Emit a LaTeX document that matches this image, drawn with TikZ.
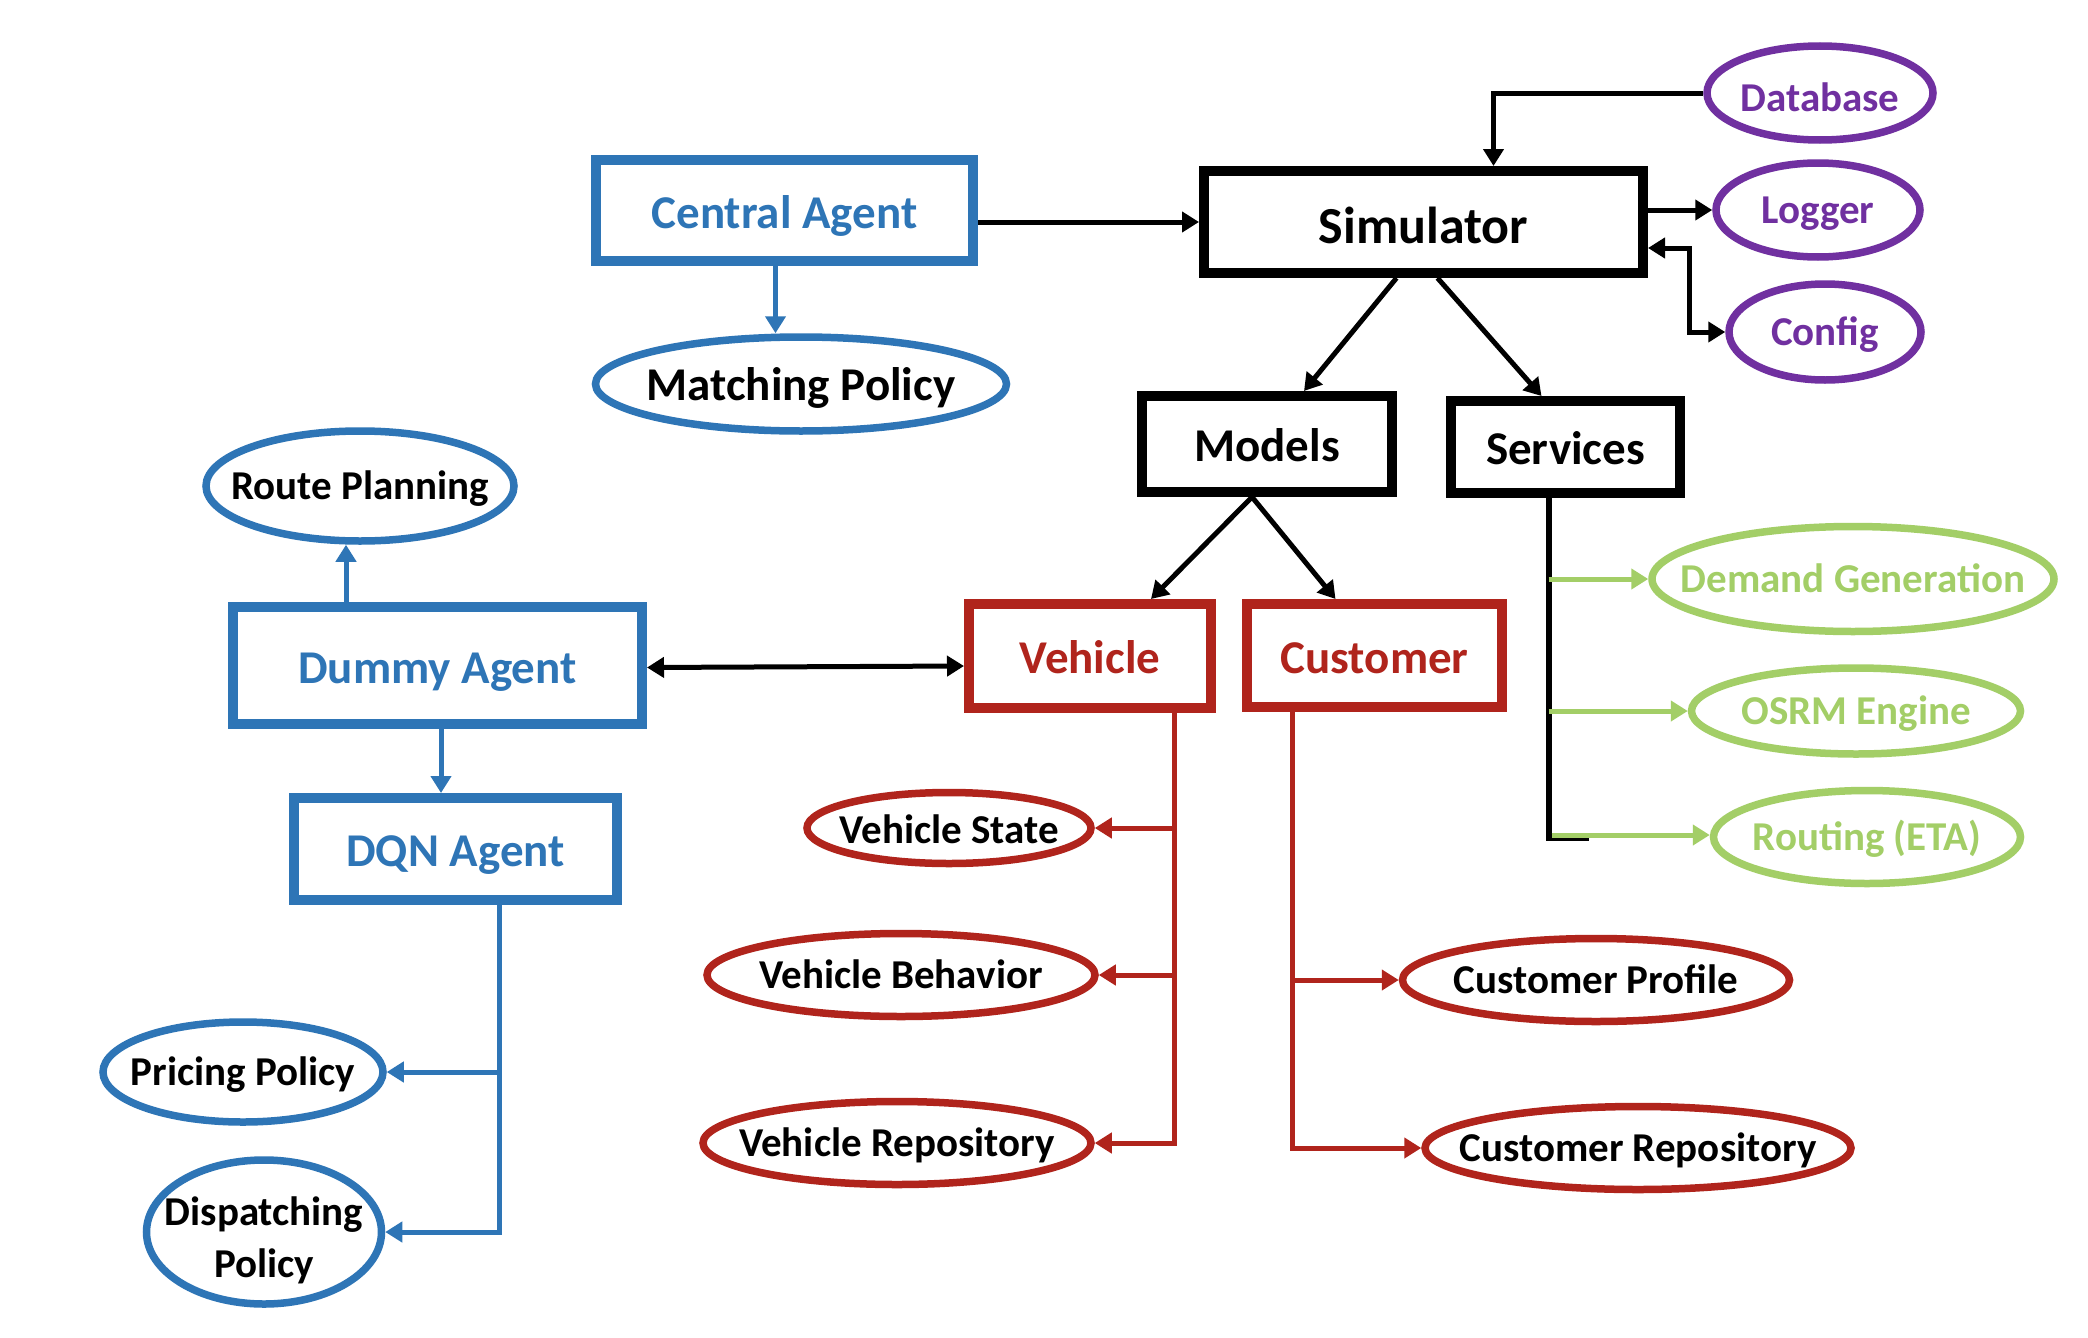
\documentclass[tikz,border=0pt]{standalone}
\usepackage{fontspec}
\setmainfont{Carlito}
\usetikzlibrary{arrows.meta,shapes.geometric,calc}
\definecolor{cblue}{HTML}{2E75B6}
\definecolor{cred}{HTML}{B0241C}
\definecolor{cpurple}{HTML}{7030A0}
\definecolor{cgreen}{HTML}{A3CE67}
\tikzset{
  tip/.style={-{Triangle[width=20pt,length=17pt]}},
  boxnode/.style={draw, rectangle, line width=10pt, inner sep=0pt, text height=42pt, text depth=7pt, font=\fontsize{47}{56}\selectfont\bfseries},
  ellnode/.style={draw, ellipse, line width=7.5pt, inner sep=0pt},
  lbl/.style={font=\fontsize{41}{50}\selectfont\bfseries, inner sep=0pt, text height=32pt, text depth=6pt},
  bigl/.style={font=\fontsize{47}{56}\selectfont\bfseries, inner sep=0pt, text height=38pt, text depth=6pt},
  twol/.style={font=\fontsize{41}{52}\selectfont\bfseries, align=center, inner sep=0pt, yshift=-8pt},
  blkc/.style={tip, line width=5pt, black},
  bluc/.style={tip, line width=5pt, cblue},
  redc/.style={tip, line width=5pt, cred},
  grnc/.style={tip, line width=5pt, cgreen},
  dblc/.style={line width=5pt, {Triangle[width=20pt,length=17pt]}-{Triangle[width=20pt,length=17pt]}},
}
\begin{document}
\begin{tikzpicture}[x=1pt,y=-1pt]
\useasboundingbox[fill=white] (0,0) rectangle (2088,1338);

% boxes
\node[boxnode, draw=cblue, text=cblue, minimum width=377pt, minimum height=101pt] (central) at (784.5,210.5) {Central Agent};
\node[boxnode, minimum width=439pt, minimum height=102pt, font=\fontsize{52}{60}\selectfont\bfseries, text height=48pt, text depth=6pt] (sim) at (1423.5,222) {Simulator};
\node[boxnode, minimum width=250pt, minimum height=96pt] (mod) at (1267,444) {Models};
\node[boxnode, minimum width=229pt, minimum height=92pt] (srv) at (1565.5,447) {Services};
\node[boxnode, draw=cred, text=cred, minimum width=242pt, minimum height=104pt] (veh) at (1090,656) {Vehicle};
\node[boxnode, draw=cred, text=cred, minimum width=255pt, minimum height=103pt] (cus) at (1374.5,655.5) {Customer};
\node[boxnode, draw=cblue, text=cblue, minimum width=409pt, minimum height=117pt] (dum) at (437.5,665.5) {Dummy Agent};
\node[boxnode, draw=cblue, text=cblue, minimum width=323pt, minimum height=102pt] (dqn) at (455.5,849) {DQN Agent};

% ellipses
\node[ellnode, draw=cblue, minimum width=411pt, minimum height=94pt, label={[bigl]center:Matching Policy}] (mp) at (801,384) {};
\node[ellnode, draw=cblue, minimum width=308pt, minimum height=110pt, label={[lbl]center:Route Planning}] (rp) at (360,486) {};
\node[ellnode, draw=cblue, minimum width=280pt, minimum height=100pt, label={[lbl]center:Pricing Policy}] (pp) at (243,1072) {};
\node[ellnode, draw=cblue, minimum width=235pt, minimum height=144pt, label={[twol]center:Dispatching\\Policy}] (dp) at (264,1232) {};

\node[ellnode, draw=cpurple, minimum width=226pt, minimum height=94pt, label={[lbl, text=cpurple, yshift=-5pt]center:Database}] (db) at (1820,93) {};
\node[ellnode, draw=cpurple, minimum width=204pt, minimum height=94pt, label={[lbl, text=cpurple]center:Logger}] (lg) at (1818,210) {};
\node[ellnode, draw=cpurple, minimum width=192pt, minimum height=96pt, label={[lbl, text=cpurple]center:Config}] (cfg) at (1825,332) {};

\node[ellnode, draw=cgreen, minimum width=402pt, minimum height=105pt, label={[lbl, text=cgreen]center:Demand Generation}] (dg) at (1853,579) {};
\node[ellnode, draw=cgreen, minimum width=329pt, minimum height=86pt, label={[lbl, text=cgreen]center:OSRM Engine}] (os) at (1856,711) {};
\node[ellnode, draw=cgreen, minimum width=307pt, minimum height=93pt, label={[lbl, text=cgreen]center:Routing (ETA)}] (rt) at (1867,837) {};

\node[ellnode, draw=cred, minimum width=284pt, minimum height=71pt, label={[lbl, yshift=-2pt]center:Vehicle State}] (vs) at (949,828) {};
\node[ellnode, draw=cred, minimum width=388pt, minimum height=83pt, label={[lbl]center:Vehicle Behavior}] (vbh) at (901,975) {};
\node[ellnode, draw=cred, minimum width=388pt, minimum height=83pt, label={[lbl]center:Vehicle Repository}] (vr) at (897,1143) {};
\node[ellnode, draw=cred, minimum width=387pt, minimum height=83pt, label={[lbl]center:Customer Profile}] (cp) at (1596,980) {};
\node[ellnode, draw=cred, minimum width=426pt, minimum height=83pt, label={[lbl]center:Customer Repository}] (cr) at (1638,1148) {};

% connectors - top
\draw[blkc] (central.east |- sim.west) -- (sim.west);
\draw[bluc] ([xshift=-9pt]central.south) -- ([xshift=-9pt]central.south |- mp.north);
\draw[blkc] (db.west) -| ([xshift=70pt]sim.north);
\draw[blkc] (sim.east |- lg.west) -- (lg.west);
\draw[dblc] ([yshift=-26pt]sim.east) -- ++(41,0) |- (cfg.west);
\draw[blkc] ([xshift=-27pt]sim.south) -- ([xshift=37pt]mod.north);
\draw[blkc] ([xshift=14pt]sim.south) -- ([xshift=-24pt]srv.north);
\draw[blkc] ([xshift=-15pt]mod.south) -- ([xshift=61pt]veh.north);
\draw[blkc] ([xshift=-15pt]mod.south) -- ([xshift=-39pt]cus.north);

% services
\coordinate (svb) at ([xshift=-17pt]srv.south);
\draw[line width=6pt] (svb) -- ($(svb |- rt.west)+(0,1)$) -- ++(40,0);
\draw[grnc] (svb |- dg.west) -- (dg.west);
\draw[grnc] (svb |- os.west) -- (os.west);
\draw[grnc] ($(svb |- rt.west)+(3,-2)$) -- ($(rt.west)+(0,-2)$);

% vehicle
\coordinate (vb) at ([xshift=84pt]veh.south);
\draw[redc] (vb) |- (vr.east);
\draw[redc] (vb |- vs.east) -- (vs.east);
\draw[redc] (vb |- vbh.east) -- (vbh.east);

% customer
\coordinate (cb) at ([xshift=-82pt]cus.south);
\draw[redc] (cb) |- (cr.west);
\draw[redc] (cb |- cp.west) -- (cp.west);

% agents
\draw[dblc] ([yshift=-2pt]dum.east) -- ([yshift=-10pt]veh.west);
\draw[bluc] ([xshift=-91.5pt]dum.north) -- ([xshift=-91.5pt]dum.north |- rp.south);
\draw[bluc] ([xshift=3.5pt]dum.south) -- ([xshift=3.5pt]dum.south |- dqn.north);
\coordinate (qb) at ([xshift=43.5pt]dqn.south);
\draw[bluc] (qb) |- (dp.east);
\draw[bluc] (qb |- pp.east) -- (pp.east);
\end{tikzpicture}
\end{document}
